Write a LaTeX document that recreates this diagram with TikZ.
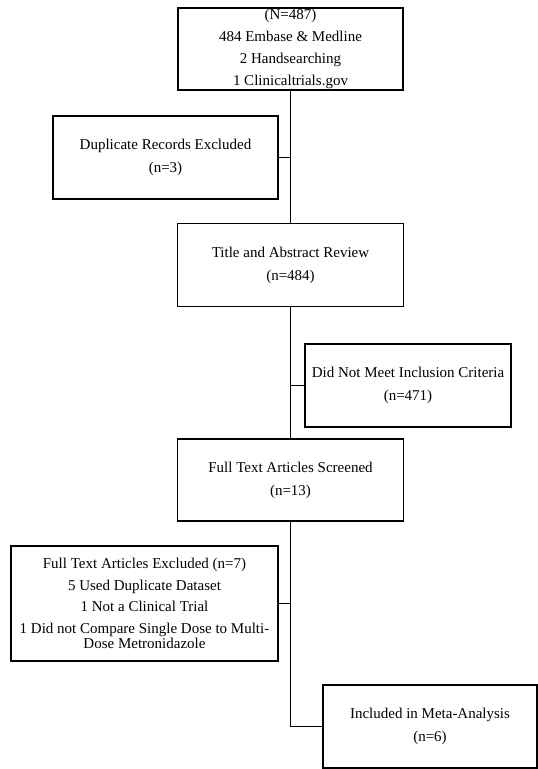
\documentclass[tikz,border=0pt]{standalone}
\usepackage{fontspec}
\setmainfont{Liberation Serif}
\usetikzlibrary{positioning, calc}

\begin{document}
\begin{tikzpicture}[x=1pt, y=-1pt, line width=1.2pt,
  font=\fontsize{15}{23}\selectfont,
  flowbox/.style={draw, align=center, inner sep=0pt, minimum height=83pt}]
  \useasboundingbox (0,0) rectangle (538,769);
  % main column of the flow
  \node[flowbox, minimum width=225pt, minimum height=82pt, font=\fontsize{15}{22.2}\selectfont] (records) at (290.5,49)
    {(N=487)\\484 Embase \& Medline\\2 Handsearching\\1 Clinicaltrials.gov};
  \node[flowbox, minimum width=226pt] (review) at (290.5,265) {Title and Abstract Review\\(n=484)};
  \node[flowbox, minimum width=226pt, minimum height=82pt] (screened) at (290.5,480) {Full Text Articles Screened\\(n=13)};
  \node[flowbox, minimum width=214pt] (included) at (430,726.5) {Included in Meta-Analysis\\(n=6)};
  % side boxes
  \node[flowbox, minimum width=225pt] (duplicates) at (165.5,157.5) {Duplicate Records Excluded\\(n=3)};
  \node[flowbox, minimum width=206pt] (criteria) at (408,385.5) {Did Not Meet Inclusion Criteria\\(n=471)};
  \node[flowbox, minimum width=267pt, minimum height=115pt, font=\fontsize{15}{21.5}\selectfont] (excluded) at (144.5,603.5)
    {Full Text Articles Excluded (n=7)\\5 Used Duplicate Dataset\\1 Not a Clinical Trial\\1 Did not Compare Single Dose to Multi-\\[-6.5pt]Dose Metronidazole};
  % connectors
  \draw (records) -- (review);
  \draw (review) -- (screened);
  \draw (screened.south) |- (included.west);
  \draw (duplicates.east) -- (duplicates.east -| records.south);
  \draw (criteria.west) -- (criteria.west -| review.south);
  \draw (excluded.east) -- (excluded.east -| screened.south);
\end{tikzpicture}
\end{document}
